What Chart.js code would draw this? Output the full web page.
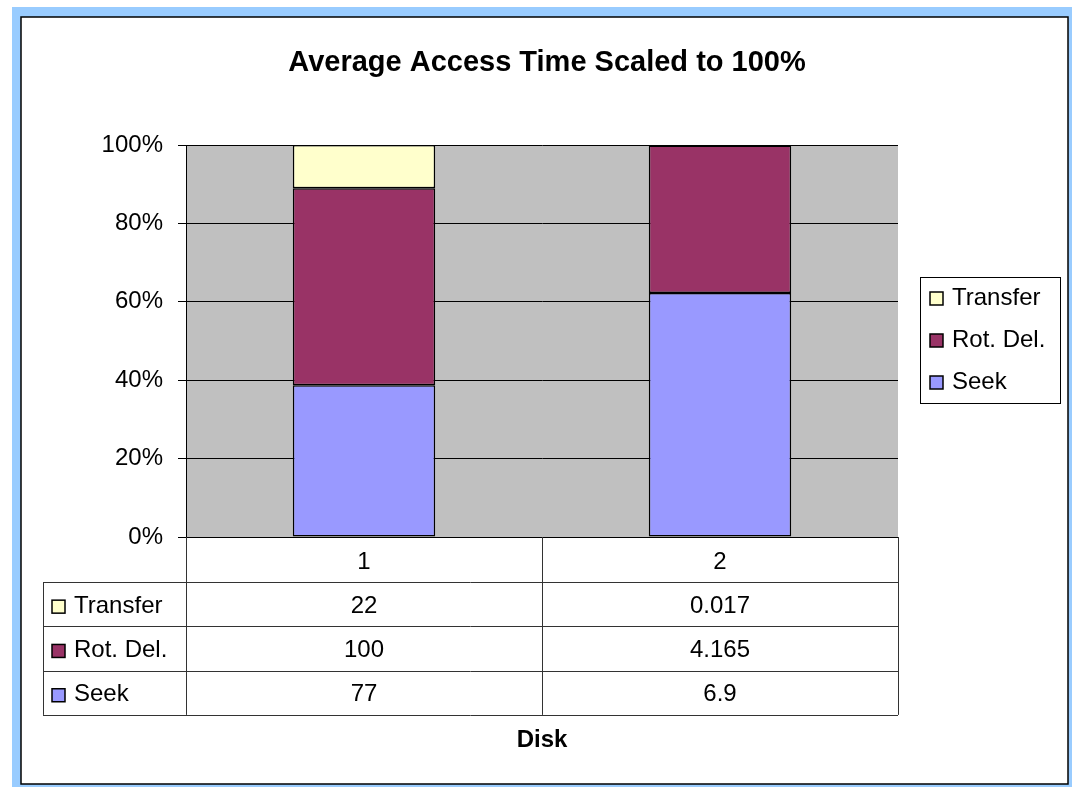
<!DOCTYPE html>
<html>
<head>
<meta charset="utf-8">
<script src="https://cdn.jsdelivr.net/npm/chart.js@4/dist/chart.umd.min.js"></script>
<style>
  html, body { margin: 0; padding: 0; background: #fff; }
  canvas { display: block; }
</style>
</head>
<body>
<canvas id="chart" width="1072" height="787"></canvas>
<script>
// raw values from the data table
const categories = ['1', '2'];
const seekValues = [77, 6.9];
const rotDelValues = [100, 4.165];
const transferValues = [22, 0.017];
const yTicks = [0, 20, 40, 60, 80, 100];

const series = [
    { name: 'Seek', values: seekValues, color: '#9999ff' },
    { name: 'Rot. Del.', values: rotDelValues, color: '#993366' },
    { name: 'Transfer', values: transferValues, color: '#ffffcc' },
];

// scale each disk to 100%
const totals = categories.map((c, i) => series.reduce((s, d) => s + d.values[i], 0));
const toPercent = (arr) => arr.map((v, i) => v / totals[i] * 100);

const FONT = '"Liberation Sans", Arial, sans-serif';

const swatch = (ctx, x, y, color) => {
    ctx.fillStyle = color;
    ctx.fillRect(x, y - 7, 13, 13);
    ctx.strokeStyle = '#000';
    ctx.lineWidth = 1.5;
    ctx.strokeRect(x, y - 7, 13, 13);
};

const frame = {
    id: 'frame',
    beforeDraw(chart) {
        const ctx = chart.ctx;
        const a = chart.chartArea;
        ctx.save();
        ctx.fillStyle = '#fff';
        ctx.fillRect(0, 0, chart.width, chart.height);
        ctx.fillStyle = '#99ccff';
        ctx.fillRect(12, 7, chart.width - 12, chart.height - 7);
        ctx.fillStyle = '#fff';
        ctx.fillRect(21, 17, 1047, 767);
        ctx.strokeStyle = '#000';
        ctx.lineWidth = 1.5;
        ctx.strokeRect(21, 17, 1047, 767);
        ctx.fillStyle = '#c0c0c0';
        ctx.fillRect(a.left, a.top, a.right - a.left, a.bottom - a.top);
        ctx.restore();
    },
    afterDraw(chart) {
        const ctx = chart.ctx;
        const a = chart.chartArea;
        const x = chart.scales.x;
        ctx.save();

        // title
        ctx.fillStyle = '#000';
        ctx.font = 'bold 29px ' + FONT;
        ctx.textAlign = 'center';
        ctx.textBaseline = 'middle';
        ctx.fillText('Average Access Time Scaled to 100%', 547, 63);

        // data table
        const edges = [x.left];
        for (let i = 0; i < categories.length - 1; i++) {
            edges.push((x.getPixelForValue(i) + x.getPixelForValue(i + 1)) / 2);
        }
        edges.push(x.right);
        const tableLeft = 43;
        const headerBottom = a.bottom + 45;
        const rowH = 44.3;
        const rows = series.slice().reverse();
        const tableBottom = headerBottom + rowH * rows.length;

        ctx.strokeStyle = '#333';
        ctx.lineWidth = 1;
        ctx.beginPath();
        edges.forEach(e => {
            ctx.moveTo(Math.round(e) + 0.5, a.bottom);
            ctx.lineTo(Math.round(e) + 0.5, tableBottom);
        });
        ctx.moveTo(tableLeft + 0.5, headerBottom);
        ctx.lineTo(tableLeft + 0.5, tableBottom);
        for (let r = 0; r <= rows.length; r++) {
            const yy = Math.round(headerBottom + rowH * r) + 0.5;
            ctx.moveTo(tableLeft, yy);
            ctx.lineTo(x.right, yy);
        }
        ctx.stroke();

        ctx.font = '24px ' + FONT;
        rows.forEach((s, r) => {
            const cy = headerBottom + rowH * r + rowH / 2 + 2;
            swatch(ctx, 52, cy + 1, s.color);
            ctx.fillStyle = '#000';
            ctx.textAlign = 'left';
            ctx.fillText(s.name, 74, cy);
            ctx.textAlign = 'center';
            s.values.forEach((v, i) => {
                ctx.fillText(String(v), x.getPixelForValue(i), cy);
            });
        });

        // axis title
        ctx.font = 'bold 24px ' + FONT;
        ctx.textAlign = 'center';
        ctx.fillText('Disk', (x.left + x.right) / 2, 740);

        // legend
        ctx.strokeStyle = '#000';
        ctx.lineWidth = 1;
        ctx.strokeRect(920.5, 277.5, 140, 126);
        ctx.font = '24px ' + FONT;
        ctx.textAlign = 'left';
        rows.forEach((s, r) => {
            const cy = 298 + r * 42;
            swatch(ctx, 930, cy + 1, s.color);
            ctx.fillStyle = '#000';
            ctx.fillText(s.name, 952, cy);
        });

        ctx.restore();
    }
};

new Chart(document.getElementById('chart'), {
    type: 'bar',
    data: {
        labels: categories,
        datasets: series.map(s => ({
            label: s.name,
            data: toPercent(s.values),
            backgroundColor: s.color,
            borderColor: '#000',
            borderWidth: 1.5,
            borderSkipped: false,
            barPercentage: 0.4,
            categoryPercentage: 1,
        })),
    },
    options: {
        responsive: false,
        animation: false,
        layout: {
            padding: { left: 0, right: 174, top: 145, bottom: 202 },
        },
        plugins: {
            legend: { display: false },
            title: { display: false },
            tooltip: { enabled: false },
        },
        scales: {
            x: {
                stacked: true,
                grid: { display: false },
                border: { display: false },
                ticks: {
                    color: '#000',
                    font: { family: FONT, size: 24 },
                    padding: 3,
                },
                afterFit: (scale) => { scale.height = 48; },
            },
            y: {
                stacked: true,
                min: 0,
                max: 100,
                afterBuildTicks: (scale) => {
                    scale.ticks = yTicks.map(v => ({ value: v }));
                },
                grid: {
                    color: '#000',
                    lineWidth: 1,
                    tickLength: 8,
                },
                border: { color: '#000', width: 1 },
                ticks: {
                    color: '#000',
                    font: { family: FONT, size: 24 },
                    padding: 15,
                    callback: (v) => v + '%',
                },
                afterFit: (scale) => { scale.width = 186; },
            },
        },
    },
    plugins: [frame],
});
</script>
</body>
</html>
